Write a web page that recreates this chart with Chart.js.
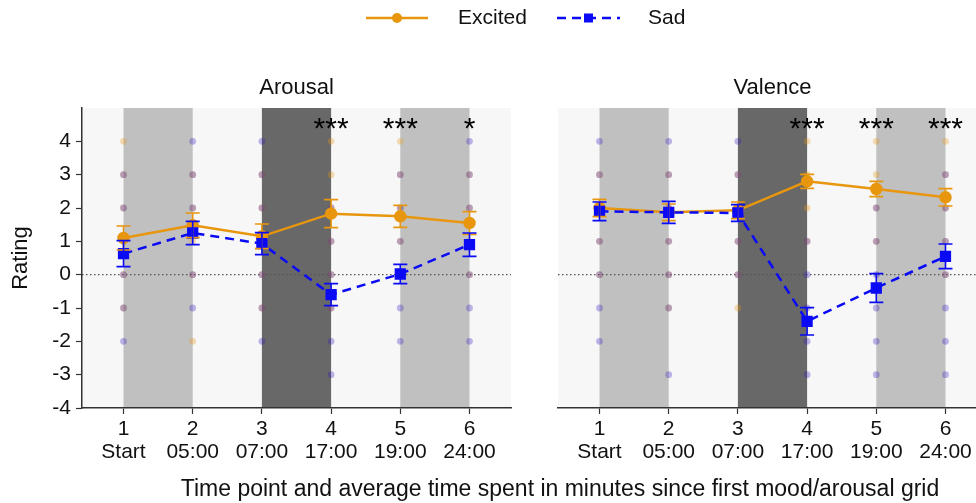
<!DOCTYPE html>
<html>
<head>
<meta charset="utf-8">
<script src="https://cdn.jsdelivr.net/npm/chart.js@4.4.1/dist/chart.umd.min.js"></script>
<style>
  body { margin: 0; background: #fff; overflow: hidden; }
  #wrap { position: relative; width: 976px; height: 503px; overflow: hidden; }
  #arousal { position: absolute; left: 0; top: 0; }
  #valence { position: absolute; left: 500px; top: 0; }
</style>
</head>
<body>
<div id="wrap">
  <canvas id="arousal" width="976" height="503"></canvas>
  <canvas id="valence" width="500" height="503"></canvas>
</div>
<script>
// data
const timePoints = [1, 2, 3, 4, 5, 6];
const timeLabels = ['Start', '05:00', '07:00', '17:00', '19:00', '24:00'];

const arousalExcited    = [1.10, 1.48, 1.15, 1.83, 1.75, 1.55];
const arousalExcitedErr = [0.36, 0.37, 0.37, 0.42, 0.33, 0.34];
const arousalSad        = [0.63, 1.25, 0.93, -0.60, 0.02, 0.90];
const arousalSadErr     = [0.39, 0.35, 0.33, 0.33, 0.29, 0.35];
const arousalStars      = ['', '', '', '***', '***', '*'];

const valenceExcited    = [2.00, 1.87, 1.93, 2.80, 2.57, 2.32];
const valenceExcitedErr = [0.26, 0.25, 0.25, 0.21, 0.23, 0.26];
const valenceSad        = [1.90, 1.87, 1.85, -1.40, -0.40, 0.55];
const valenceSadErr     = [0.28, 0.33, 0.25, 0.41, 0.43, 0.37];
const valenceStars      = ['', '', '', '***', '***', '***'];

// individual ratings (faint dots), one list per time point
const arousalExcitedDots = [[4, 3, 2, 1, 0, -1], [3, 2, 1, 0, -2], [3, 2, 1, 0, -1], [4, 3, 2, 1, 0, -1], [4, 3, 2, 1, 0], [3, 2, 1, 0]];
const arousalSadDots     = [[3, 2, 1, 0, -1, -2], [4, 3, 2, 0, -1], [4, 3, 2, 0, -1, -2], [2, 1, 0, -1, -2, -3], [3, 2, 1, 0, -1, -2], [4, 3, 2, 0, -1, -2]];
const valenceExcitedDots = [[3, 2, 1, 0], [3, 2, 1, 0, -1], [3, 2, 1, 0, -1], [4, 3, 2, 1], [4, 3, 2, 1], [4, 3, 2, 1, 0]];
const valenceSadDots     = [[4, 3, 2, 1, 0, -1, -2], [4, 3, 2, 1, 0, -1, -3], [4, 3, 2, 1, 0], [1, 0, -1, -2, -3], [2, 1, 0, -1, -2, -3], [3, 2, 1, 0, -1, -2, -3]];

// shaded phases [from, to]
const lightBands = [[1, 2], [5, 6]];
const darkBands  = [[3, 4]];
const yTicks = [-4, -3, -2, -1, 0, 1, 2, 3, 4];

const ORANGE = '#e8960e';
const BLUE = '#0a0af5';
const FONT = '"Liberation Sans", Arial, sans-serif';

function pts(vals) { return vals.map((v, i) => ({ x: timePoints[i], y: v })); }
function dots(lists) { return lists.flatMap((ys, i) => ys.map(y => ({ x: timePoints[i], y }))); }

const panelPlugin = {
    id: 'panel',
    beforeDraw(chart) {
        const { ctx, chartArea: a, scales: { x, y } } = chart;
        ctx.save();
        ctx.fillStyle = '#f7f7f7';
        ctx.fillRect(a.left, a.top, a.right - a.left, a.bottom - a.top);
        const band = (b, c) => {
            ctx.fillStyle = c;
            const x0 = x.getPixelForValue(b[0]), x1 = x.getPixelForValue(b[1]);
            ctx.fillRect(x0, a.top, x1 - x0, a.bottom - a.top);
        };
        lightBands.forEach(b => band(b, '#c0c0c0'));
        darkBands.forEach(b => band(b, '#686868'));
        // zero reference line
        const y0 = y.getPixelForValue(0);
        ctx.strokeStyle = '#555';
        ctx.lineWidth = 1.2;
        ctx.setLineDash([1.5, 2.5]);
        ctx.beginPath(); ctx.moveTo(a.left, y0); ctx.lineTo(a.right, y0); ctx.stroke();
        ctx.restore();
    },
    afterDatasetsDraw(chart, args, opts) {
        const { ctx, chartArea: a, scales: { x, y } } = chart;
        ctx.save();
        // error bars
        opts.errors.forEach(e => {
            ctx.strokeStyle = e.color;
            ctx.lineWidth = 1.6;
            e.values.forEach((v, i) => {
                const px = x.getPixelForValue(timePoints[i]);
                const hi = y.getPixelForValue(v + e.err[i]), lo = y.getPixelForValue(v - e.err[i]);
                ctx.beginPath();
                ctx.moveTo(px, hi); ctx.lineTo(px, lo);
                ctx.moveTo(px - 7, hi); ctx.lineTo(px + 7, hi);
                ctx.moveTo(px - 7, lo); ctx.lineTo(px + 7, lo);
                ctx.stroke();
            });
        });
        // significance stars
        ctx.fillStyle = '#000';
        ctx.font = '30px ' + FONT;
        ctx.textAlign = 'center';
        ctx.textBaseline = 'middle';
        opts.stars.forEach((s, i) => {
            if (s) ctx.fillText(s, x.getPixelForValue(timePoints[i]), y.getPixelForValue(4.36));
        });
        // panel title
        ctx.font = '22px ' + FONT;
        ctx.fillStyle = '#111';
        ctx.fillText(opts.title, (a.left + a.right) / 2, 88);
        ctx.restore();
    },
    afterDraw(chart, args, opts) {
        if (!opts.legend) return;
        const ctx = chart.ctx;
        const ds = chart.data.datasets;
        ctx.save();
        const item = (d, x0, x1, tx) => {
            const yy = 18;
            ctx.strokeStyle = d.borderColor;
            ctx.lineWidth = 2.5;
            ctx.setLineDash(d.borderDash || []);
            ctx.beginPath(); ctx.moveTo(x0, yy); ctx.lineTo(x1, yy); ctx.stroke();
            ctx.setLineDash([]);
            ctx.fillStyle = d.borderColor;
            const cx = (x0 + x1) / 2;
            if (d.pointStyle === 'rect') ctx.fillRect(cx - 4.5, yy - 4.5, 9, 9);
            else { ctx.beginPath(); ctx.arc(cx, yy, 5, 0, Math.PI * 2); ctx.fill(); }
            ctx.fillStyle = '#111';
            ctx.font = '21px ' + FONT;
            ctx.textAlign = 'left';
            ctx.textBaseline = 'middle';
            ctx.fillText(d.label, tx, yy);
        };
        item(ds[0], 366, 428, 458);
        item(ds[1], 557, 620, 648);
        ctx.font = '23px ' + FONT;
        ctx.fillStyle = '#111';
        ctx.textAlign = 'center';
        ctx.textBaseline = 'middle';
        ctx.fillText('Time point and average time spent in minutes since first mood/arousal grid', 560, 490);
        ctx.restore();
    }
};

function makeChart(id, title, exc, excErr, sad, sadErr, excDots, sadDots, stars, showY, padding, legend) {
    return new Chart(document.getElementById(id), {
        type: 'line',
        data: {
            datasets: [
                { label: 'Excited', data: pts(exc), borderColor: ORANGE, backgroundColor: ORANGE, borderWidth: 2.5,
                  pointStyle: 'circle', pointRadius: 5, order: 1 },
                { label: 'Sad', data: pts(sad), borderColor: BLUE, backgroundColor: BLUE, borderWidth: 2.5,
                  borderDash: [9, 6], pointStyle: 'rect', pointRadius: 6.2, order: 0 },
                { type: 'scatter', label: 'excited raw', data: dots(excDots), backgroundColor: 'rgba(232,150,14,0.3)',
                  borderWidth: 0, pointRadius: 3.4, order: 3 },
                { type: 'scatter', label: 'sad raw', data: dots(sadDots), backgroundColor: 'rgba(50,20,190,0.3)',
                  borderWidth: 0, pointRadius: 3.4, order: 2 }
            ]
        },
        options: {
            responsive: false,
            animation: false,
            layout: { padding },
            plugins: {
                legend: { display: false },
                tooltip: { enabled: false },
                panel: {
                    title, stars, legend,
                    errors: [{ values: exc, err: excErr, color: ORANGE }, { values: sad, err: sadErr, color: BLUE }]
                }
            },
            scales: {
                x: {
                    type: 'linear', min: 0.4, max: 6.6,
                    afterBuildTicks: s => { s.ticks = timePoints.map(v => ({ value: v })); },
                    afterFit: s => { s.height = 95; },
                    grid: { drawOnChartArea: false, drawTicks: true, tickLength: 6, color: '#333', tickWidth: 1.2 },
                    border: { display: true, color: '#333', width: 1.5 },
                    ticks: {
                        font: { family: FONT, size: 21, lineHeight: 1.1 }, color: '#111', padding: 4, maxRotation: 0,
                        callback: v => [String(v), timeLabels[v - 1]]
                    }
                },
                y: {
                    display: showY,
                    min: -4, max: 5,
                    afterBuildTicks: s => { s.ticks = yTicks.map(v => ({ value: v })); },
                    afterFit: s => { s.width = showY ? 82 : 0; },
                    grid: { drawOnChartArea: false, drawTicks: true, tickLength: 6, color: '#333', tickWidth: 1.2 },
                    border: { display: true, color: '#333', width: 1.5 },
                    ticks: { font: { family: FONT, size: 21 }, color: '#111', padding: 5 },
                    title: { display: true, text: 'Rating', font: { family: FONT, size: 22 }, color: '#111', padding: { top: 8 } }
                }
            }
        },
        plugins: [panelPlugin]
    });
}

makeChart('arousal', 'Arousal', arousalExcited, arousalExcitedErr, arousalSad, arousalSadErr,
    arousalExcitedDots, arousalSadDots, arousalStars, true, { left: 0, top: 108, right: 465, bottom: 0 }, true);
makeChart('valence', 'Valence', valenceExcited, valenceExcitedErr, valenceSad, valenceSadErr,
    valenceExcitedDots, valenceSadDots, valenceStars, false, { left: 58, top: 108, right: 13, bottom: 0 }, false);
</script>
</body>
</html>
